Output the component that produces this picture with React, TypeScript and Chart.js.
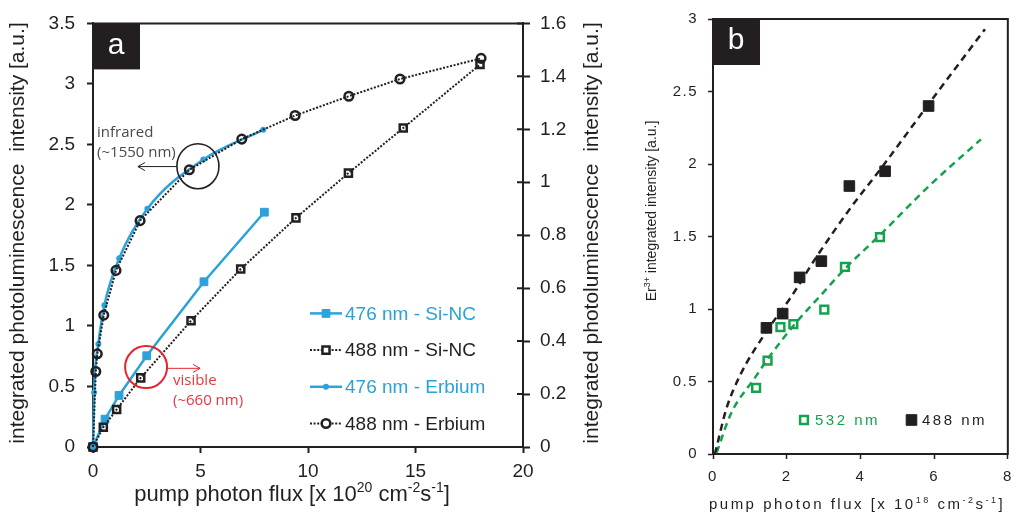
import React, { useEffect, useRef } from 'react';
import { Chart, registerables } from 'chart.js';

Chart.register(...registerables);

// ---------------- Panel a data ----------------
const A_LEGEND = ['476 nm - Si-NC', '488 nm - Si-NC', '476 nm - Erbium', '488 nm - Erbium'];
const siNC476X = [0, 0.56, 1.21, 2.5, 5.16, 7.97];
const siNC476Y = [0, 0.23, 0.426, 0.754, 1.365, 1.94];
const siNC488X = [0, 0.48, 1.1, 2.22, 4.56, 6.87, 9.44, 11.88, 14.43, 18.0];
const siNC488Y = [0, 0.163, 0.31, 0.571, 1.043, 1.47, 1.893, 2.263, 2.636, 3.16];
const er476X = [0, 0.05, 0.25, 0.53, 1.22, 2.53, 5.13, 7.92];
const er476Y = [0, 0.206, 0.389, 0.535, 0.713, 0.9, 1.086, 1.198];
const er488X = [0, 0.13, 0.2, 0.5, 1.07, 2.19, 4.48, 6.92, 9.4, 11.9, 14.28, 18.05];
const er488Y = [0, 0.285, 0.352, 0.498, 0.667, 0.855, 1.047, 1.163, 1.252, 1.325, 1.39, 1.468];
const A_X_RANGE = [0, 20, 5];
const A_YL_RANGE = [0, 3.5, 0.5];
const A_YR_RANGE = [0, 1.6, 0.2];
const A_YTITLE = 'integrated photoluminescence  intensity [a.u.]';
const A_XTITLE: [string, boolean][] = [['pump photon flux [x 10', false], ['20', true], [' cm', false], ['-2', true], ['s', false], ['-1', true], [']', false]];
const IR_TEXT = ['infrared', '(~1550 nm)'];
const VIS_TEXT = ['visible', '(~660 nm)'];

// ---------------- Panel b data ----------------
const B_LEGEND = ['532 nm', '488 nm'];
const b488X = [1.45, 1.89, 2.35, 2.94, 3.7, 4.67, 5.85];
const b488Y = [0.87, 0.968, 1.218, 1.33, 1.848, 1.95, 2.4];
const b532X = [1.17, 1.48, 1.83, 2.18, 3.02, 3.58, 4.53];
const b532Y = [0.456, 0.644, 0.875, 0.896, 0.995, 1.29, 1.495];
const fit488X = [0.05, 0.1, 0.36, 0.75, 1.41, 2.11, 2.81, 3.77, 4.56, 5.87, 7.38];
const fit488Y = [0, 0.05, 0.31, 0.55, 0.83, 1.08, 1.36, 1.71, 1.97, 2.42, 2.93];
const fit532X = [0.1, 0.49, 1.15, 1.5, 2.2, 2.98, 3.59, 4.53, 5.87, 7.27];
const fit532Y = [0.01, 0.28, 0.53, 0.66, 0.89, 1.11, 1.28, 1.51, 1.85, 2.17];
const B_X_RANGE = [0, 8, 2];
const B_Y_RANGE = [0, 3, 0.5];
const B_YTITLE: [string, boolean][] = [['Er', false], ['3+', true], [' integrated intensity [a.u.]', false]];
const B_XTITLE: [string, boolean][] = [['pump photon flux [x 10', false], ['18', true], [' cm', false], ['-2', true], ['s', false], ['-1', true], [']', false]];

// ---------------- styles ----------------
const INK = '#231f20';
const BLUE = '#2ba2d9';
const GREEN = '#14a34c';
const RED = '#e2262e';
const FONT = '"Liberation Sans", Arial, sans-serif';
const HFONT = '"Open Sans", "Liberation Sans", sans-serif';
const CLEAR = 'rgba(0,0,0,0)';

const zip = (xs: number[], ys: number[]) => xs.map((x, i) => ({ x, y: ys[i] }));
const fmt = (v: any) => String(Number(Number(v).toFixed(3)));

function drawRich(ctx: any, parts: [string, boolean][], x: number, y: number, size: number, family: string, color: string, rot: number, spacing: number) {
  ctx.save();
  ctx.translate(x, y);
  ctx.rotate(rot);
  ctx.fillStyle = color;
  ctx.textBaseline = 'middle';
  ctx.textAlign = 'left';
  ctx.letterSpacing = spacing + 'px';
  const sup = Math.round(size * 0.62);
  let total = 0;
  const ws = parts.map(([t, s]) => {
    ctx.font = `${s ? sup : size}px ${family}`;
    const w = ctx.measureText(t).width;
    total += w;
    return w;
  });
  let cx = -total / 2;
  parts.forEach(([t, s], i) => {
    ctx.font = `${s ? sup : size}px ${family}`;
    ctx.fillText(t, cx, s ? -size * 0.33 : 0);
    cx += ws[i];
  });
  ctx.restore();
}

function marker(ctx: any, style: string, x: number, y: number, r: number, fill: string, stroke: string, bw: number) {
  ctx.save();
  ctx.beginPath();
  if (style === 'rect') {
    const s = Math.SQRT1_2 * r;
    ctx.rect(x - s, y - s, 2 * s, 2 * s);
  } else {
    ctx.arc(x, y, r, 0, Math.PI * 2);
  }
  ctx.fillStyle = fill;
  ctx.fill();
  if (bw > 0) {
    ctx.lineWidth = bw;
    ctx.strokeStyle = stroke;
    ctx.stroke();
  }
  ctx.restore();
}

function panelLabel(ctx: any, ca: any, text: string) {
  ctx.save();
  ctx.fillStyle = INK;
  ctx.fillRect(ca.left - 1, ca.top, 48, 46);
  ctx.fillStyle = '#ffffff';
  ctx.font = `30px ${FONT}`;
  ctx.textAlign = 'center';
  ctx.textBaseline = 'middle';
  ctx.letterSpacing = '0px';
  ctx.fillText(text, ca.left + 23, ca.top + 22);
  ctx.restore();
}

const panelAPlugin = {
  id: 'panelA',
  afterDraw(chart: any) {
    const { ctx, chartArea: ca, scales } = chart;
    const sx = scales.x, sy = scales.y, sy2 = scales.y2;
    ctx.save();
    // top frame
    ctx.strokeStyle = INK;
    ctx.lineWidth = 2;
    ctx.beginPath();
    ctx.moveTo(ca.left - 1, ca.top);
    ctx.lineTo(ca.right + 1, ca.top);
    ctx.stroke();
    // inner half of right-axis ticks
    ctx.beginPath();
    sy2.ticks.forEach((t: any) => {
      const py = sy2.getPixelForValue(t.value);
      ctx.moveTo(ca.right - 6, py);
      ctx.lineTo(ca.right, py);
    });
    ctx.stroke();

    // infrared annotation
    const ecx = sx.getPixelForValue(4.88), ecy = sy.getPixelForValue(2.32);
    ctx.lineWidth = 1.6;
    ctx.strokeStyle = INK;
    ctx.beginPath();
    ctx.ellipse(ecx, ecy, 21, 22.5, 0, 0, Math.PI * 2);
    ctx.stroke();
    const ay = sy.getPixelForValue(2.317);
    const ax0 = sx.getPixelForValue(3.9), ax1 = sx.getPixelForValue(2.09);
    ctx.lineWidth = 1;
    ctx.beginPath();
    ctx.moveTo(ax0, ay); ctx.lineTo(ax1, ay);
    ctx.moveTo(ax1 + 7, ay - 4); ctx.lineTo(ax1, ay); ctx.lineTo(ax1 + 7, ay + 4);
    ctx.stroke();
    ctx.fillStyle = '#4a4a4a';
    ctx.font = `15px ${HFONT}`;
    ctx.textAlign = 'left';
    ctx.textBaseline = 'middle';
    ctx.fillText(IR_TEXT[0], sx.getPixelForValue(0.19), sy.getPixelForValue(2.6));
    ctx.fillText(IR_TEXT[1], sx.getPixelForValue(0.19), sy.getPixelForValue(2.43));

    // visible annotation
    ctx.strokeStyle = RED;
    ctx.lineWidth = 2;
    ctx.beginPath();
    ctx.arc(sx.getPixelForValue(2.47), sy.getPixelForValue(0.66), 21, 0, Math.PI * 2);
    ctx.stroke();
    const ry = sy.getPixelForValue(0.65);
    const rx0 = sx.getPixelForValue(3.44), rx1 = sx.getPixelForValue(4.98);
    ctx.lineWidth = 1;
    ctx.beginPath();
    ctx.moveTo(rx0, ry); ctx.lineTo(rx1, ry);
    ctx.moveTo(rx1 - 7, ry - 4); ctx.lineTo(rx1, ry); ctx.lineTo(rx1 - 7, ry + 4);
    ctx.stroke();
    ctx.fillStyle = '#e5383e';
    ctx.fillText(VIS_TEXT[0], sx.getPixelForValue(3.72), sy.getPixelForValue(0.547));
    ctx.fillText(VIS_TEXT[1], sx.getPixelForValue(3.72), sy.getPixelForValue(0.386));

    // legend
    const lx0 = ca.left + 217, lx1 = ca.left + 249, ltx = ca.left + 252;
    const ly0 = ca.top + 290, dly = 36.7;
    chart.data.datasets.forEach((ds: any, i: number) => {
      const yy = ly0 + i * dly;
      ctx.save();
      ctx.strokeStyle = ds.borderColor;
      ctx.lineWidth = ds.borderWidth;
      ctx.setLineDash(ds.borderDash || []);
      ctx.beginPath();
      ctx.moveTo(lx0, yy); ctx.lineTo(lx1, yy);
      ctx.stroke();
      ctx.restore();
      marker(ctx, ds.pointStyle, (lx0 + lx1) / 2, yy, ds.pointRadius, ds.pointBackgroundColor === CLEAR ? '#fff' : ds.pointBackgroundColor, ds.pointBorderColor, ds.pointBorderWidth);
      ctx.fillStyle = ds.borderColor;
      ctx.font = `19px ${FONT}`;
      ctx.textAlign = 'left';
      ctx.textBaseline = 'middle';
      ctx.fillText(ds.label, ltx, yy + 1);
    });

    // axis titles
    const ymid = 233;
    [18, 592].forEach((tx) => {
      ctx.save();
      ctx.fillStyle = INK;
      ctx.font = `21px ${FONT}`;
      ctx.textAlign = 'center';
      ctx.textBaseline = 'middle';
      ctx.translate(tx, ymid);
      ctx.rotate(-Math.PI / 2);
      ctx.fillText(A_YTITLE, 0, 0);
      ctx.restore();
    });
    drawRich(ctx, A_XTITLE, 292, 495, 22, FONT, INK, 0, 0);

    panelLabel(ctx, ca, 'a');
    ctx.restore();
  },
};

const panelBPlugin = {
  id: 'panelB',
  beforeDraw(chart: any) {
    chart.ctx.letterSpacing = '1.5px';
  },
  afterDraw(chart: any) {
    const { ctx, chartArea: ca } = chart;
    ctx.save();
    ctx.strokeStyle = INK;
    ctx.lineWidth = 2;
    ctx.strokeRect(ca.left, ca.top, ca.right - ca.left, ca.bottom - ca.top);

    // legend
    const ly = ca.top + 401;
    marker(ctx, 'rect', ca.left + 91, ly, 5.5, '#fff', GREEN, 2.5);
    marker(ctx, 'rect', ca.left + 198.5, ly, 7.5, INK, INK, 1);
    ctx.letterSpacing = '2.5px';
    ctx.font = `15px ${FONT}`;
    ctx.textAlign = 'left';
    ctx.textBaseline = 'middle';
    ctx.fillStyle = GREEN;
    ctx.fillText(B_LEGEND[0], ca.left + 102, ly + 1);
    ctx.fillStyle = INK;
    ctx.fillText(B_LEGEND[1], ca.left + 209, ly + 1);

    drawRich(ctx, B_YTITLE, 12, 211, 14, FONT, INK, -Math.PI / 2, 0);
    drawRich(ctx, B_XTITLE, 217, 505, 15, FONT, INK, 0, 2.5);

    panelLabel(ctx, ca, 'b');
    ctx.restore();
  },
};

function axisCommon(size: number, pad: number, tick: number, tw: number, step: number) {
  return {
    ticks: { font: { size, family: FONT }, color: INK, padding: pad, stepSize: step, callback: fmt },
    grid: { drawOnChartArea: false, tickLength: tick, tickWidth: tw, tickColor: INK },
    border: { color: INK, width: 2 },
  };
}

export default function App() {
  const refA = useRef<HTMLCanvasElement | null>(null);
  const refB = useRef<HTMLCanvasElement | null>(null);

  useEffect(() => {
    const chartA = new Chart(refA.current as HTMLCanvasElement, {
      type: 'scatter',
      data: {
        datasets: [
          {
            label: A_LEGEND[0], data: zip(siNC476X, siNC476Y), yAxisID: 'y', showLine: true,
            borderColor: BLUE, backgroundColor: BLUE, borderWidth: 2.5,
            pointStyle: 'rect', pointRadius: 5.5, pointBorderWidth: 1,
            pointBackgroundColor: BLUE, pointBorderColor: BLUE, clip: false, order: 3,
          },
          {
            label: A_LEGEND[1], data: zip(siNC488X, siNC488Y), yAxisID: 'y', showLine: true,
            borderColor: INK, backgroundColor: CLEAR, borderWidth: 2, borderDash: [2, 1.6],
            pointStyle: 'rect', pointRadius: 5, pointBorderWidth: 2.5,
            pointBackgroundColor: CLEAR, pointBorderColor: INK, clip: false, order: 2,
          },
          {
            label: A_LEGEND[2], data: zip(er476X, er476Y), yAxisID: 'y2', showLine: true,
            borderColor: BLUE, backgroundColor: BLUE, borderWidth: 2.5, cubicInterpolationMode: 'monotone',
            pointStyle: 'circle', pointRadius: 3, pointBorderWidth: 0,
            pointBackgroundColor: BLUE, pointBorderColor: BLUE, clip: false, order: 1,
          },
          {
            label: A_LEGEND[3], data: zip(er488X, er488Y), yAxisID: 'y2', showLine: true,
            borderColor: INK, backgroundColor: CLEAR, borderWidth: 2, borderDash: [2, 1.6],
            pointStyle: 'circle', pointRadius: 4.3, pointBorderWidth: 2.5,
            pointBackgroundColor: CLEAR, pointBorderColor: INK, clip: false, order: 0,
          },
        ] as any,
      },
      options: {
        responsive: false,
        animation: false,
        devicePixelRatio: 1,
        layout: { padding: { top: 12, left: 0, right: 0, bottom: 0 } },
        plugins: { legend: { display: false }, tooltip: { enabled: false } },
        scales: {
          x: {
            type: 'linear', min: A_X_RANGE[0], max: A_X_RANGE[1],
            ...axisCommon(19, 7, 6, 2, A_X_RANGE[2]),
            afterFit: (s: any) => { s.height = 76; },
          },
          y: {
            position: 'left', min: A_YL_RANGE[0], max: A_YL_RANGE[1],
            ...axisCommon(19, 12, 6, 2, A_YL_RANGE[2]),
            afterFit: (s: any) => { s.width = 93; },
          },
          y2: {
            position: 'right', min: A_YR_RANGE[0], max: A_YR_RANGE[1],
            ...axisCommon(19, 10, 7, 2, A_YR_RANGE[2]),
            afterFit: (s: any) => { s.width = 117; },
          },
        },
      } as any,
      plugins: [panelAPlugin],
    });

    const chartB = new Chart(refB.current as HTMLCanvasElement, {
      type: 'scatter',
      data: {
        datasets: [
          {
            label: B_LEGEND[1], data: zip(b488X, b488Y), showLine: false,
            pointStyle: 'rect', pointRadius: 7.5, pointBorderWidth: 1,
            pointBackgroundColor: INK, pointBorderColor: INK, borderColor: INK, backgroundColor: INK, order: 0,
          },
          {
            label: B_LEGEND[0], data: zip(b532X, b532Y), showLine: false,
            pointStyle: 'rect', pointRadius: 5.5, pointBorderWidth: 2.5,
            pointBackgroundColor: CLEAR, pointBorderColor: GREEN, borderColor: GREEN, backgroundColor: CLEAR, order: 1,
          },
          {
            label: 'fit 488', data: zip(fit488X, fit488Y), showLine: true, pointRadius: 0,
            borderColor: INK, borderWidth: 2.5, borderDash: [7, 5], cubicInterpolationMode: 'monotone', order: 2,
          },
          {
            label: 'fit 532', data: zip(fit532X, fit532Y), showLine: true, pointRadius: 0,
            borderColor: GREEN, borderWidth: 2.5, borderDash: [7, 5], cubicInterpolationMode: 'monotone', order: 3,
          },
        ] as any,
      },
      options: {
        responsive: false,
        animation: false,
        devicePixelRatio: 1,
        layout: { padding: { top: 13, left: 0, right: 3, bottom: 0 } },
        plugins: { legend: { display: false }, tooltip: { enabled: false } },
        scales: {
          x: {
            type: 'linear', min: B_X_RANGE[0], max: B_X_RANGE[1],
            ...axisCommon(15, 9, 5, 1.5, B_X_RANGE[2]),
            afterFit: (s: any) => { s.height = 69; },
          },
          y: {
            position: 'left', min: B_Y_RANGE[0], max: B_Y_RANGE[1],
            ...axisCommon(15, 10, 5, 1.5, B_Y_RANGE[2]),
            afterFit: (s: any) => { s.width = 73; },
          },
        },
      } as any,
      plugins: [panelBPlugin],
    });

    return () => {
      chartA.destroy();
      chartB.destroy();
    };
  }, []);

  return (
    <div style={{ position: 'absolute', left: 0, top: 0, width: 1021, height: 523, background: '#fff' }}>
      <canvas ref={refA} width={640} height={523} style={{ position: 'absolute', left: 0, top: 0, width: 640, height: 523 }} />
      <canvas ref={refB} width={381} height={523} style={{ position: 'absolute', left: 640, top: 0, width: 381, height: 523 }} />
    </div>
  );
}
